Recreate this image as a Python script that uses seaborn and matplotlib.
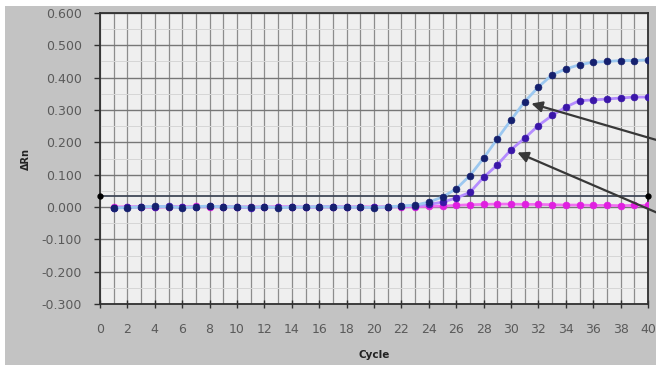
import numpy as np
import pandas as pd
import matplotlib
matplotlib.use("Agg")
import matplotlib.pyplot as plt
from matplotlib.ticker import MultipleLocator, FixedLocator
import seaborn as sns

cycles = list(range(1, 41))
series_a = [-0.003, -0.002, 0.000, 0.002, 0.001, -0.002, 0.001, 0.003, 0.000, 0.001,
            -0.001, 0.001, -0.002, -0.001, 0.000, 0.001, 0.000, -0.001, 0.000, -0.002,
            0.001, 0.003, 0.006, 0.015, 0.031, 0.056, 0.097, 0.151, 0.211, 0.269,
            0.326, 0.371, 0.409, 0.427, 0.440, 0.448, 0.450, 0.453, 0.453, 0.455]
series_b = [-0.002, -0.001, 0.001, 0.000, 0.002, -0.001, 0.000, 0.002, 0.001, 0.000,
            -0.002, 0.000, -0.001, 0.001, -0.001, 0.000, 0.001, 0.000, -0.001, -0.001,
            0.000, 0.002, 0.004, 0.008, 0.015, 0.028, 0.045, 0.092, 0.130, 0.177,
            0.213, 0.252, 0.283, 0.309, 0.329, 0.331, 0.334, 0.337, 0.340, 0.340]
series_c = [0.000, 0.001, 0.000, -0.001, 0.001, 0.000, 0.002, 0.000, 0.001, 0.000,
            0.001, 0.000, 0.001, 0.000, 0.000, 0.001, 0.000, 0.000, 0.001, 0.000,
            0.001, 0.000, 0.001, 0.002, 0.003, 0.005, 0.007, 0.008, 0.009, 0.009,
            0.008, 0.008, 0.007, 0.006, 0.006, 0.005, 0.005, 0.004, 0.005, 0.005]
threshold = 0.033
x_ticks = list(range(0, 41, 2))
y_ticks = [0.6, 0.5, 0.4, 0.3, 0.2, 0.1, 0.0, -0.1, -0.2, -0.3]
x_label = "Cycle"
y_label = "ΔRn"

df = pd.DataFrame({
    "Cycle": cycles * 3,
    "dRn": series_c + series_b + series_a,
    "Sample": ["C"] * 40 + ["B"] * 40 + ["A"] * 40,
})

sns.set_theme(style="white")
plt.rcParams['font.family'] = ['DejaVu Sans']

fig = plt.figure(figsize=(6.56, 3.65), dpi=100)
fig.patch.set_facecolor("white")
fig.patches.append(plt.Rectangle((5 / 656, 0), 1, 1 - 6 / 365, transform=fig.transFigure,
                                 facecolor="#c3c3c3", edgecolor="none", zorder=-10))
ax = fig.add_axes([100 / 656, 1 - 304 / 365, 548 / 656, 291 / 365])
ax.set_facecolor("#efefef")

styles = {
    "C": dict(line="#f070f0", marker="#e020e0"),
    "B": dict(line="#b48cff", marker="#3a16a8"),
    "A": dict(line="#9cc8f0", marker="#15206e"),
}
for name in ["C", "B", "A"]:
    sub = df[df["Sample"] == name]
    sns.lineplot(data=sub, x="Cycle", y="dRn", ax=ax, color=styles[name]["line"],
                 lw=2.0, marker="o", markersize=5, markerfacecolor=styles[name]["marker"],
                 markeredgecolor=styles[name]["marker"], markeredgewidth=0.4,
                 legend=False, zorder=3, clip_on=True)

ax.axhline(threshold, color="#404858", lw=1.3, zorder=2.5)
ax.plot([0, 40], [threshold, threshold], ls="none", marker="o", ms=3.5, color="black",
        clip_on=False, zorder=5)

ax.set_xlim(0, 40)
ax.set_ylim(-0.3, 0.6)
ax.xaxis.set_major_locator(FixedLocator(x_ticks))
ax.xaxis.set_minor_locator(MultipleLocator(1))
ax.yaxis.set_major_locator(FixedLocator(y_ticks))
ax.yaxis.set_minor_locator(MultipleLocator(0.05))
ax.set_yticklabels([f"{v:.3f}" for v in y_ticks])
ax.set_xticklabels([str(v) for v in x_ticks])

ax.grid(True, which="minor", axis="x", color="#8c8c8c", lw=0.9)
ax.grid(True, which="major", axis="x", color="#8c8c8c", lw=0.9)
ax.grid(True, which="major", axis="y", color="#777777", lw=1.0)
ax.grid(True, which="minor", axis="y", color="#d6d6d6", lw=0.7)
ax.set_axisbelow(True)

for s in ax.spines.values():
    s.set_color("#303030")
    s.set_linewidth(1.3)

ax.tick_params(axis="x", which="both", direction="inout", length=6, width=1, color="#303030",
               labelsize=9, labelcolor="#5a5a5a", pad=11)
ax.tick_params(axis="y", which="major", direction="out", length=4, width=1, color="#303030",
               labelsize=9, labelcolor="#5a5a5a", pad=9)
ax.tick_params(axis="y", which="minor", length=0)
ax.tick_params(bottom=True, left=True)

ax.set_xlabel(x_label, fontsize=7.5, fontweight="bold", color="#222222", labelpad=10)
ax.set_ylabel(y_label, fontsize=7, fontweight="bold", color="#222222", labelpad=8)

arrow = dict(arrowstyle="-|>", mutation_scale=16, lw=1.6, color="#383838", shrinkA=0, shrinkB=5)
ax.annotate("", xy=(31, series_a[30]), xytext=(1.095, 0.52), textcoords="axes fraction",
            arrowprops=arrow, annotation_clip=False)
ax.annotate("", xy=(30, series_b[29]), xytext=(1.095, 0.25), textcoords="axes fraction",
            arrowprops=arrow, annotation_clip=False)

fig.savefig("out.png", dpi=100, facecolor=fig.get_facecolor())
